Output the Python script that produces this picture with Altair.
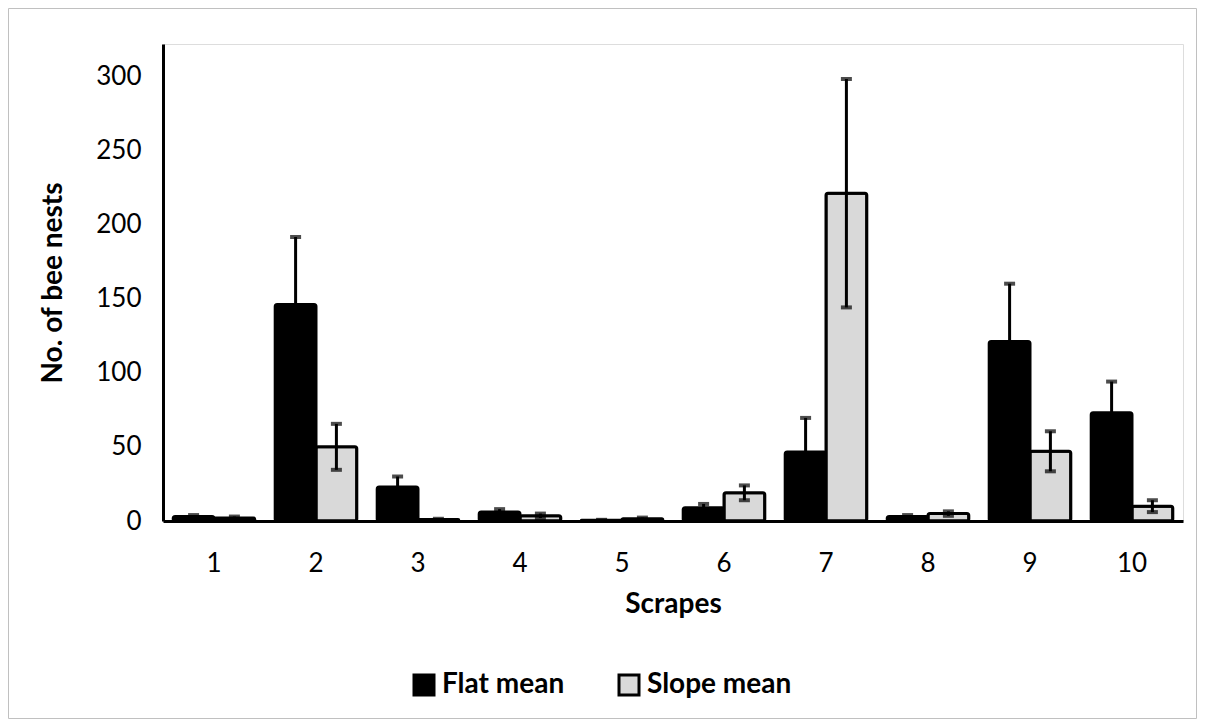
import altair as alt
import pandas as pd

scrapes = ["1", "2", "3", "4", "5", "6", "7", "8", "9", "10"]
series = ["Flat mean", "Slope mean"]
flat_mean = [3, 146, 23, 6, 0.5, 9, 46.5, 3, 121, 73]
flat_err = [1, 45.5, 7, 2, 0.3, 2.5, 23, 1, 39, 21]
slope_mean = [2, 50, 1, 3.5, 1.5, 19, 221, 5, 47, 10]
slope_err = [1, 15.5, 0.5, 1.5, 0.8, 5, 77, 1.5, 13.5, 4]
y_ticks = [0, 50, 100, 150, 200, 250, 300]

rows = []
for i, s in enumerate(scrapes):
    rows.append({"scrape": s, "series": series[0], "value": flat_mean[i], "err": flat_err[i]})
    rows.append({"scrape": s, "series": series[1], "value": slope_mean[i], "err": slope_err[i]})
df = pd.DataFrame(rows)
df["lo"] = df["value"] - df["err"]
df["hi"] = df["value"] + df["err"]

FONT = "Lato"
W, H = 1020, 477
LBL = 26
TTL = 28

xenc = alt.X("scrape:N", sort=scrapes, title="Scrapes",
             scale=alt.Scale(paddingInner=0.2, paddingOuter=0.1),
             axis=alt.Axis(labelAngle=0, ticks=False, domainColor="black", domainWidth=3,
                           labelFontSize=LBL, labelPadding=29, titleFontSize=TTL,
                           titleFontWeight="bold", titlePadding=14, labelColor="black",
                           titleColor="black"))
yscale = alt.Scale(domain=[0, 321.6], nice=False)
yenc = alt.Y("value:Q", scale=yscale, title="No. of bee nests",
             axis=alt.Axis(values=y_ticks, ticks=False, grid=False, domainColor="black",
                           domainWidth=3, labelFontSize=LBL, labelPadding=22,
                           titleFontSize=TTL, titleFontWeight="bold", titlePadding=28,
                           labelColor="black", titleColor="black"))
xoff = alt.XOffset("series:N", sort=series)

base = alt.Chart(df)

bars = base.mark_bar(stroke="black", strokeWidth=3, cornerRadius=2).encode(
    x=xenc, xOffset=xoff, y=yenc,
    color=alt.Color("series:N", sort=series,
                    scale=alt.Scale(domain=series, range=["#000000", "#d9d9d9"]),
                    legend=alt.Legend(title=None, orient="none", legendX=247, legendY=627,
                                      direction="horizontal", symbolType="square",
                                      symbolSize=400, symbolStrokeColor="black",
                                      symbolStrokeWidth=3, labelFontSize=TTL,
                                      labelFontWeight="bold", labelFont=FONT,
                                      labelColor="black", columnPadding=48,
                                      labelOffset=4, labelLimit=300)),
)

rules = base.mark_rule(color="black", strokeWidth=3).encode(
    x=alt.X("scrape:N", sort=scrapes), xOffset=xoff,
    y=alt.Y("lo:Q", scale=yscale), y2="hi:Q",
)
cap_hi = base.mark_tick(color="black", thickness=4, size=11, orient="horizontal").encode(
    x=alt.X("scrape:N", sort=scrapes), xOffset=xoff, y=alt.Y("hi:Q", scale=yscale),
)
cap_lo = base.mark_tick(color="black", thickness=4, size=11, orient="horizontal").encode(
    x=alt.X("scrape:N", sort=scrapes), xOffset=xoff, y=alt.Y("lo:Q", scale=yscale),
)

border = alt.Chart(pd.DataFrame({"a": [0]})).mark_rect(
    fill=None, stroke="#c0c0c0", strokeWidth=1
).encode(x=alt.value(-154.5), x2=alt.value(1033.5), y=alt.value(-35.5), y2=alt.value(674.5))

chart = alt.layer(border, bars, rules, cap_hi, cap_lo).properties(
    width=W, height=H,
    autosize=alt.AutoSizeParams(type="none"),
    padding={"left": 155, "top": 36, "right": 14, "bottom": 198},
).configure_view(stroke=None).configure(font=FONT).configure_axis(labelFont=FONT, titleFont=FONT)

chart.save("out.html", embed_options={"renderer": "svg", "actions": False})
